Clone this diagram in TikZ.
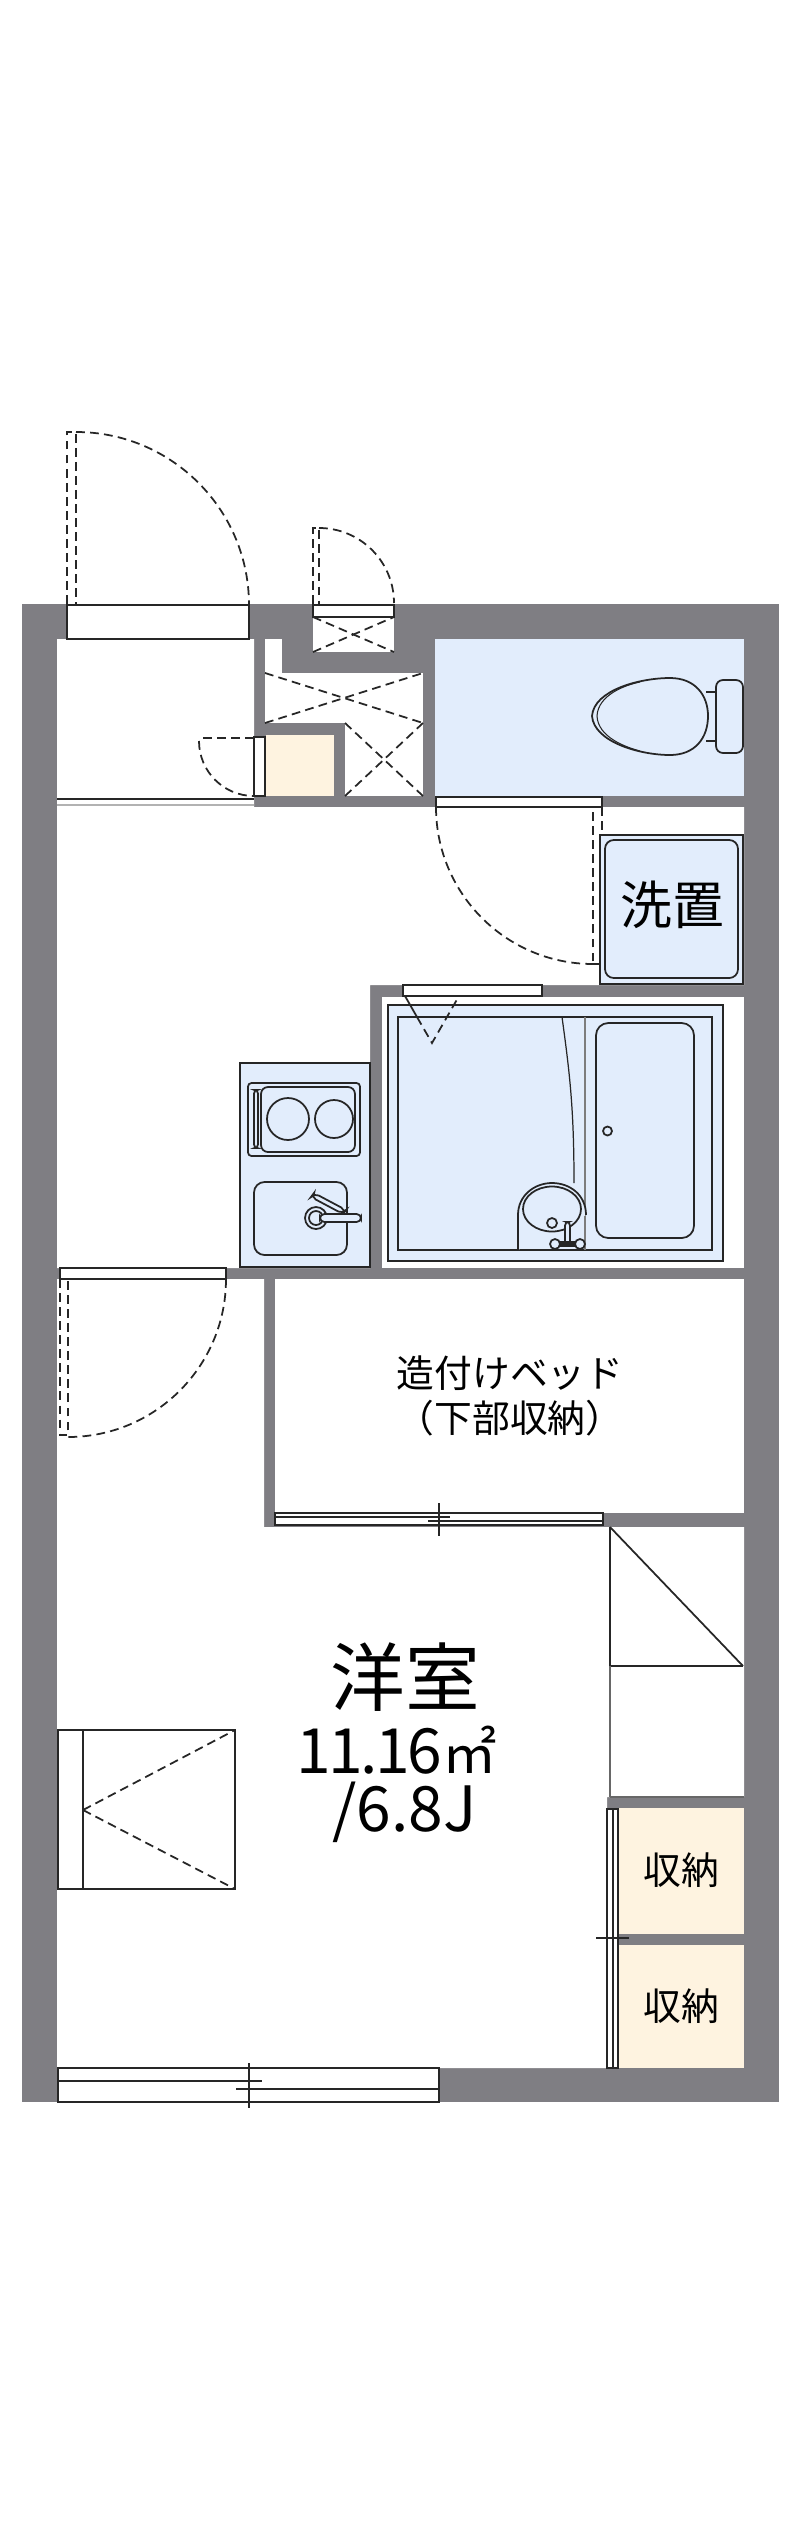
\documentclass[tikz,border=0pt]{standalone}
\usepackage{fontspec}
\newfontfamily\jpfont{Noto Sans CJK JP}
\definecolor{wallgray}{HTML}{7F7E83}
\definecolor{wetblue}{HTML}{E2EDFC}
\definecolor{closetcream}{HTML}{FEF3E0}
\definecolor{inkline}{HTML}{262626}
\begin{document}
\begin{tikzpicture}[x=0.02cm,y=-0.02cm,
		fixture/.style={draw=inkline,line width=1pt},
		swing/.style={draw=inkline,line width=1pt,dash pattern=on 5pt off 3pt},
		doorbox/.style={draw=inkline,line width=1pt,fill=white},
		roomtext/.style={inner sep=0pt,text=black,font=\jpfont\fontsize{42.5}{42.5}\selectfont},
		areatext/.style={inner sep=0pt,text=black,anchor=base west,font=\jpfont\fontsize{35.5}{35.5}\selectfont},
		marktext/.style={inner sep=0pt,text=black,font=\jpfont\fontsize{21.5}{21.5}\selectfont},
		washtext/.style={inner sep=0pt,text=black,font=\jpfont\fontsize{29.5}{29.5}\selectfont}]

		\useasboundingbox (0,0) rectangle (800,2539);

		% walls %
		\fill[wallgray] (22,604) rectangle (779,2102);

		% rooms %
		\fill[white] (57,639) -- (254,639) -- (254,807) -- (744,807) -- (744,985) -- (370,985) -- (370,1268) -- (57,1268) -- cycle;
		\fill[white] (57,1279) -- (264,1279) -- (264,1527) -- (744,1527) -- (744,1797) -- (607,1797) -- (607,2068) -- (57,2068) -- cycle;
		\fill[white] (275,1279) rectangle (744,1513);
		\fill[white] (382,997) rectangle (744,1268);
		\fill[white] (265,639) rectangle (282,673);
		\fill[white] (265,673) rectangle (423,723);
		\fill[white] (345,723) rectangle (423,796);
		\fill[white] (313,617) rectangle (394,652);
		\fill[closetcream] (266,735) rectangle (334,796);
		\fill[wetblue] (435,639) rectangle (744,796);
		\fill[closetcream] (618,1808) rectangle (744,1934);
		\fill[closetcream] (618,1945) rectangle (744,2068);
		\fill[wallgray] (631,1934) rectangle (744,1945);

		% entrance door %
		\draw[doorbox] (67,605) rectangle (249,639);
		\draw[swing] (67,604) -- (67,432) -- (76,432) -- (76,604);
		\draw[swing] (76,432) arc[start angle=-90,end angle=0,radius=173];

		% meter door %
		\draw[doorbox] (313,605) rectangle (394,617);
		\draw[swing] (313,604) -- (313,528) -- (319,528) -- (319,604);
		\draw[swing] (319,528) arc[start angle=-90,end angle=0,radius=75];
		\draw[swing] (313,617) -- (394,652);
		\draw[swing] (313,652) -- (394,617);

		% shaft crosses %
		\draw[swing] (265,673) -- (423,723);
		\draw[swing] (265,723) -- (423,673);
		\draw[swing] (345,723) -- (423,796);
		\draw[swing] (345,796) -- (423,723);

		% closet door at entrance %
		\draw[doorbox] (254,737) rectangle (265,796);
		\draw[swing,line width=1.4pt] (254,738) -- (199,738);
		\draw[swing] (199,741) arc[start angle=180,end angle=90,radius=55];

		% step %
		\draw[inkline,line width=1pt] (57,799) -- (254,799);
		\draw[gray!60,line width=0.8pt] (57,805) -- (254,805);

		% toilet %
		\draw[doorbox] (436,797) rectangle (602,807);
		\draw[swing] (602,807) -- (602,964) -- (593,964) -- (593,807);
		\draw[swing] (436,807) arc[start angle=180,end angle=90,radius=157];
		\draw[fixture,fill=wetblue,rounded corners=4pt] (716,680) rectangle (743,753);
		\draw[fixture] (706,692) -- (716,692);
		\draw[fixture] (706,741) -- (716,741);
		\draw[fixture,fill=wetblue] (592,716) .. controls (594,690) and (640,678) .. (670,678) .. controls (695,678) and (708,695) .. (708,716) .. controls (708,738) and (695,755) .. (670,755) .. controls (640,755) and (594,742) .. (592,716) -- cycle;
		\draw[inkline,line width=0.6pt] (597,716) .. controls (598,695) and (625,685) .. (640,682);
		\draw[inkline,line width=0.6pt] (597,716) .. controls (598,737) and (625,747) .. (640,751);

		% washer pan %
		\draw[draw=inkline,line width=0.7pt,fill=wetblue] (600,835) rectangle (743,984);
		\draw[fixture,rounded corners=5pt] (605,840) rectangle (738,978);
		\draw[fixture] (593,964) -- (600,964);
		\node[washtext] (washlabel) at (672,905) {洗置};

		% bath %
		\draw[fixture,fill=wetblue] (388,1005) rectangle (723,1261);
		\draw[fixture] (398,1017) rectangle (712,1250);
		\draw[draw=inkline!60,line width=1.3pt] (585,1017) -- (585,1250);
		\draw[inkline,line width=0.7pt] (562,1017) .. controls (570,1075) and (574,1110) .. (574,1183);
		\draw[fixture,rounded corners=7pt] (596,1023) rectangle (694,1238);
		\draw[fixture] (607.5,1131) circle (4.5);
		\draw[fixture,fill=wetblue] (518,1250) -- (518,1215) .. controls (518,1195) and (535,1183) .. (552,1183) .. controls (570,1183) and (586,1195) .. (586,1215);
		\draw[fixture] (552,1209) ellipse (29 and 22.5);
		\draw[fixture] (552,1223) circle (5);
		\draw[fixture,fill=wetblue,rounded corners=2pt] (565,1222) rectangle (570,1245);
		\draw[fixture,fill=inkline] (558,1242) rectangle (577,1246);
		\draw[fixture,fill=wetblue] (555,1244) circle (5);
		\draw[fixture,fill=wetblue] (580,1244) circle (5);

		% bath door %
		\draw[doorbox] (403,985) rectangle (542,996);
		\draw[fixture] (405,996) -- (417,1017);
		\draw[swing] (417,1017) -- (432,1043) -- (459,996);

		% kitchen %
		\draw[draw=inkline,line width=0.7pt,fill=wetblue] (240,1063) rectangle (370,1267);
		\draw[fixture,rounded corners=2pt] (248,1083) rectangle (360,1156);
		\draw[fixture,rounded corners=4pt] (261,1087) rectangle (355,1152);
		\draw[fixture,rounded corners=2pt] (254,1090) rectangle (258,1148);
		\draw[fixture] (288,1119) circle (21);
		\draw[fixture] (334,1119) circle (19);
		\draw[fixture,rounded corners=6pt] (254,1182) rectangle (347,1255);
		\draw[fixture,fill=wetblue,rounded corners=3pt] (311,1197) -- (314,1193) -- (346,1210) -- (343,1214) -- cycle;
		\draw[fixture,fill=wetblue] (316,1218) circle (11);
		\draw[fixture,fill=wetblue] (316,1218) circle (7);
		\draw[fixture,fill=wetblue,rounded corners=2.5pt] (320,1214) rectangle (361,1222);

		% room door %
		\draw[doorbox] (60,1268) rectangle (226,1279);
		\draw[swing] (60,1279) -- (60,1435) -- (68,1435) -- (68,1279);
		\draw[swing] (226,1279) arc[start angle=0,end angle=90,radius=158];

		% bed sliding door %
		\draw[doorbox] (275,1513) rectangle (603,1525);
		\draw[inkline,line width=0.7pt] (275,1517) -- (450,1517);
		\draw[inkline,line width=0.7pt] (428,1521) -- (603,1521);
		\draw[inkline,line width=0.7pt] (439,1503) -- (439,1536);

		% shelf %
		\draw[fixture] (610,1527) -- (610,1666) -- (743,1666);
		\draw[fixture] (610,1527) -- (743,1666);
		\draw[draw=inkline!70,line width=1pt] (610,1666) -- (610,1797);
		\draw[draw=inkline!70,line width=1pt] (610,1797) -- (744,1797);

		% closet doors %
		\draw[draw=inkline,line width=0.7pt,fill=white] (607,1809) rectangle (618,2068);
		\draw[draw=inkline,line width=0.7pt] (613,1809) -- (613,2068);
		\draw[inkline,line width=0.7pt] (596,1938) -- (629,1938);
		\draw[inkline,line width=0.7pt] (613,1930) -- (613,1947);

		% storage closet %
		\draw[fixture,fill=white] (58,1730) rectangle (235,1889);
		\draw[fixture] (83,1730) -- (83,1889);
		\draw[swing] (83,1810) -- (235,1730);
		\draw[swing] (83,1810) -- (235,1889);

		% balcony window %
		\draw[doorbox] (58,2068) rectangle (439,2102);
		\draw[inkline,line width=0.8pt] (58,2081) -- (262,2081);
		\draw[inkline,line width=0.8pt] (236,2089) -- (439,2089);
		\draw[inkline,line width=0.8pt] (249,2063) -- (249,2108);

		% labels %
		\node[marktext] (bedlabel) at (510,1373) {造付けベッド};
		\node[marktext] (bedsublabel) at (510,1418) {（下部収納）};
		\node[roomtext] (roomlabel) at (405,1677) {洋室};
		\node[areatext] (arealabel) at (296,1773) {\addfontfeature{LetterSpace=-4}11.16\fontsize{31}{31}\selectfont ㎡};
		\node[areatext] (jolabel) at (332,1831) {/6.8J};
		\node[marktext] (closetlabelA) at (681,1870) {収納};
		\node[marktext] (closetlabelB) at (681,2006) {収納};

	\end{tikzpicture}
\end{document}
